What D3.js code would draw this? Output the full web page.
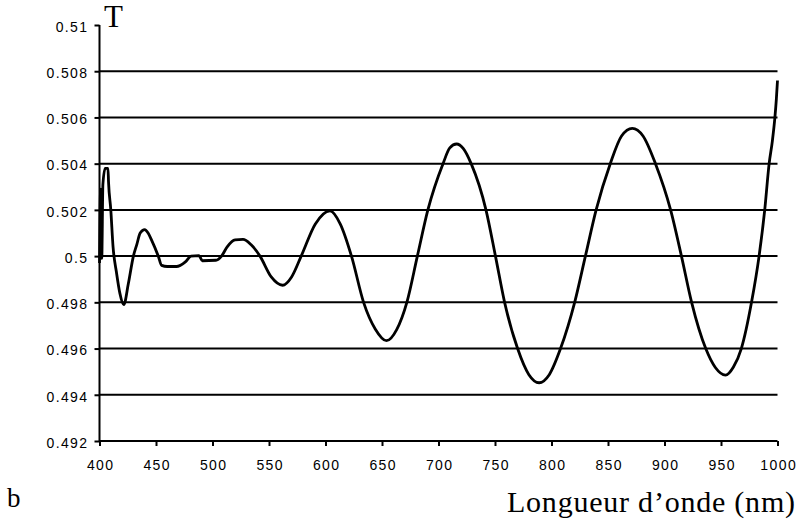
<!DOCTYPE html>
<html>
<head>
<meta charset="utf-8">
<script src="https://cdn.jsdelivr.net/npm/d3@7"></script>
<style>
  html, body { margin: 0; padding: 0; background: #fff; }
  svg { display: block; }
</style>
</head>
<body>
<svg id="chart" width="800" height="522"></svg>
<script>
// Transmission spectrum: wavelength (nm) and transmittance T
const wavelength = [
  400, 401, 402, 403, 405, 407.5, 408, 410, 412, 415, 418, 421.5, 425.5, 430, 433, 436,
  440, 443, 446, 452, 455, 460, 468, 476, 481, 488, 491, 503, 508, 513, 520, 527, 534,
  542, 552, 562, 570, 578.5, 591, 604, 613, 623, 633.7, 644, 654, 663, 672, 681.3,
  690.6, 704, 710, 716, 722, 728.9, 742, 750.4, 758.5, 770, 780, 789, 798, 808, 820.5,
  830, 839.5, 852, 862, 871.5, 881, 892, 905.4, 915, 924, 936.5, 945, 954, 961, 968,
  977, 983.7, 988.7, 992.6, 995.5, 997.7, 999, 1000
];
const transmittance = [
  0.4997, 0.5029, 0.4999, 0.5031, 0.5038, 0.5038, 0.5032, 0.5020, 0.5004, 0.4993, 0.4984, 0.4979, 0.4988, 0.5000, 0.5005, 0.5010,
  0.50115, 0.5010, 0.5007, 0.5000, 0.4996, 0.49955, 0.49955, 0.49975, 0.5000, 0.50002, 0.4998, 0.49982, 0.5000, 0.5004, 0.5007, 0.50072, 0.5005,
  0.5000, 0.4991, 0.49874, 0.4991, 0.5000, 0.50139, 0.50196, 0.5014, 0.5000, 0.4980, 0.49685, 0.49634, 0.49682, 0.4980, 0.5000,
  0.5020, 0.5040, 0.50468, 0.50485, 0.50465, 0.5040, 0.5020, 0.5000, 0.4980, 0.4960, 0.49487, 0.49452, 0.49487, 0.4960, 0.4980,
  0.5000, 0.5020, 0.5040, 0.5052, 0.50553, 0.5052, 0.5040, 0.5020, 0.5000, 0.4980, 0.4960, 0.49518, 0.49485, 0.4952, 0.4960,
  0.4980, 0.5000, 0.5020, 0.5040, 0.5050, 0.5060, 0.5068, 0.5076
];

const xTicks = [400, 450, 500, 550, 600, 650, 700, 750, 800, 850, 900, 950, 1000];
const yTicks = [0.492, 0.494, 0.496, 0.498, 0.5, 0.502, 0.504, 0.506, 0.508, 0.51];
const yTickLabels = ["0.492", "0.494", "0.496", "0.498", "0.5", "0.502", "0.504", "0.506", "0.508", "0.51"];
const gridValues = [0.494, 0.496, 0.498, 0.5, 0.502, 0.504, 0.506, 0.508];

const svg = d3.select("#chart");
const sans = "'Liberation Sans', Arial, sans-serif";
const serif = "'Liberation Serif', 'Times New Roman', serif";

const x = d3.scaleLinear().domain([400, 1000]).range([99.5, 777.5]);
const y = d3.scaleLinear().domain([0.492, 0.51]).range([441, 25]);

// horizontal grid lines
svg.append("g")
  .selectAll("line")
  .data(gridValues)
  .join("line")
  .attr("x1", x(400)).attr("x2", x(1000))
  .attr("y1", d => y(d)).attr("y2", d => y(d))
  .attr("stroke", "#000").attr("stroke-width", 2);

// y axis
const yAxis = svg.append("g")
  .attr("transform", `translate(${x(400)},0)`)
  .call(d3.axisLeft(y).tickValues(yTicks).tickSize(5).tickPadding(6)
    .tickFormat((d, i) => yTickLabels[i]));
yAxis.select(".domain").attr("stroke", "#000").attr("stroke-width", 2)
  .attr("d", `M0,${y(0.51)}V${y(0.492)}`);
yAxis.selectAll(".tick line").attr("stroke", "#000").attr("stroke-width", 2);
yAxis.selectAll(".tick text")
  .attr("font-family", sans).attr("font-size", 14).attr("fill", "#000")
  .attr("letter-spacing", "1.4px").attr("dy", "0.45em").attr("x", -11);

// x axis
const xAxis = svg.append("g")
  .attr("transform", `translate(0,${y(0.492)})`)
  .call(d3.axisBottom(x).tickValues(xTicks).tickSize(5).tickPadding(14)
    .tickFormat(d3.format("d")));
xAxis.select(".domain").attr("stroke", "#000").attr("stroke-width", 2)
  .attr("d", `M${x(400)},0H${x(1000)}`);
xAxis.selectAll(".tick line").attr("stroke", "#000").attr("stroke-width", 2);
xAxis.selectAll(".tick text")
  .attr("font-family", sans).attr("font-size", 14).attr("fill", "#000")
  .attr("letter-spacing", "1.4px").attr("dx", "0.7px");

// spectrum curve
const points = wavelength.map((w, i) => [w, transmittance[i]]);
const line = d3.line()
  .x(d => x(d[0]))
  .y(d => y(d[1]))
  .curve(d3.curveMonotoneX);
svg.append("path")
  .datum(points)
  .attr("d", line)
  .attr("fill", "none")
  .attr("stroke", "#000")
  .attr("stroke-width", 2.8)
  .attr("stroke-linejoin", "round");

// titles
svg.append("text")
  .attr("x", 104).attr("y", 27)
  .attr("font-family", serif).attr("font-size", 31).attr("fill", "#000")
  .text("T");

svg.append("text")
  .attr("x", 7).attr("y", 507)
  .attr("font-family", serif).attr("font-size", 27).attr("fill", "#000")
  .text("b");

svg.append("text")
  .attr("x", 507).attr("y", 512)
  .attr("font-family", serif).attr("font-size", 30).attr("fill", "#000")
  .attr("textLength", 288).attr("lengthAdjust", "spacing")
  .text("Longueur d’onde (nm)");
</script>
</body>
</html>
